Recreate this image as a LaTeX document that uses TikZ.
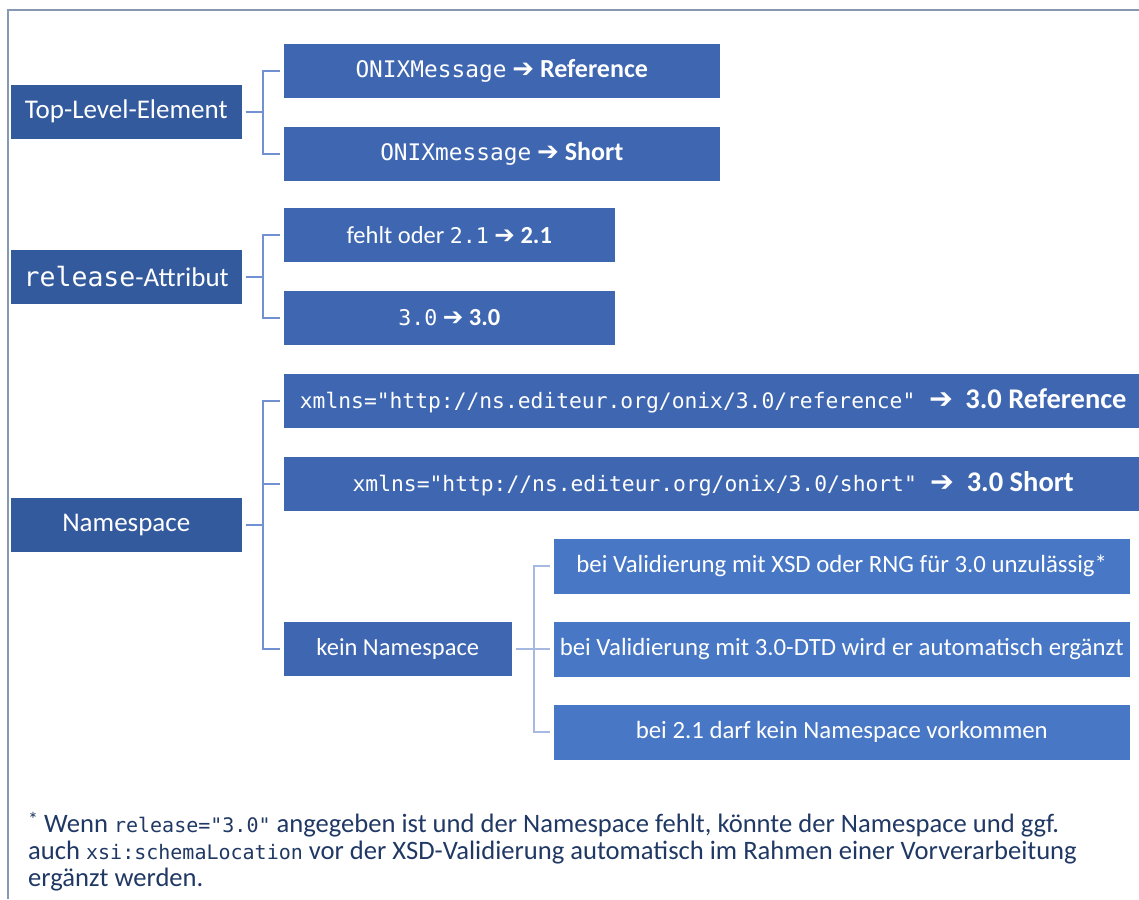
\documentclass[tikz,border=0pt]{standalone}
\usepackage{fontspec}
\setmainfont{Carlito}
\newfontfamily\monof{DejaVu Sans Mono}
\newfontfamily\symf{DejaVu Sans}
\newcommand\mt[2]{{\monof\fontsize{#1}{#1}\selectfont #2}}
\newcommand\arr{{\symf ➔}}
\definecolor{cA}{HTML}{345A9E}
\definecolor{cB}{HTML}{3F67B1}
\definecolor{cC}{HTML}{4777C5}
\definecolor{lA}{HTML}{7291D2}
\definecolor{lB}{HTML}{A7B8E1}
\definecolor{cFrame}{HTML}{8799B2}
\definecolor{cF}{HTML}{203864}
\begin{document}
\begin{tikzpicture}[x=1pt,y=-1pt,
 box/.style={anchor=north west, inner sep=0pt, text=white, draw=white, line width=0.5pt},
 lone/.style={box, fill=cA, minimum width=232pt, minimum height=55pt, font=\fontsize{27}{30}\selectfont},
 ltwo/.style={box, fill=cB, minimum height=55pt, font=\fontsize{24.5}{28}\selectfont},
 lthree/.style={box, fill=cC, minimum width=577pt, minimum height=56pt, font=\fontsize{24.8}{28}\selectfont},
 conA/.style={draw=lA, line width=2pt, shorten <=3pt, shorten >=3pt},
 conB/.style={draw=lB, line width=2pt, shorten <=3pt, shorten >=3pt},
 frameline/.style={draw=cFrame, line width=1.6pt},
 foot/.style={anchor=base west, inner sep=0pt, text=cF, font=\fontsize{26.6}{27}\selectfont}]
\useasboundingbox (0,0) rectangle (1139,899);
\draw[frameline] (8,899) -- (8,10) -- (1139,10);

\node[lone] (tle) at (10,84) {Top-Level-Element};
\node[ltwo, minimum width=437pt, font=\fontsize{26}{28}\selectfont] (onref) at (283,43) {\mt{22.8}{ONIXMessage} \arr{} \textbf{Reference}};
\node[ltwo, minimum width=437pt, font=\fontsize{26}{28}\selectfont] (onshort) at (283,126) {\mt{22.8}{ONIXmessage} \arr{} \textbf{Short}};

\node[lone] (rel) at (10,249) {\mt{26.5}{release}-Attribut};
\node[ltwo, minimum width=332pt] (r21) at (283,207) {fehlt oder \mt{21.6}{2.1} \arr{} \textbf{2.1}};
\node[ltwo, minimum width=332pt] (r30) at (283,290) {\mt{21.6}{3.0} \arr{} \textbf{3.0}};

\node[lone] (ns) at (10,497) {Namespace};
\node[ltwo, minimum width=860pt, font=\fontsize{28.5}{30}\selectfont] (nsref) at (283,373) {\mt{21.3}{xmlns="http://ns.editeur.org/onix/3.0/reference"}\hspace{14pt}\arr{}\hspace{12pt}\textbf{3.0 Reference}};
\node[ltwo, minimum width=860pt, font=\fontsize{28.5}{30}\selectfont] (nsshort) at (283,456) {\mt{21.3}{xmlns="http://ns.editeur.org/onix/3.0/short"}\hspace{14pt}\arr{}\hspace{12pt}\textbf{3.0 Short}};
\node[ltwo, minimum width=229pt] (kein) at (283,621) {kein Namespace};

\node[lthree] (v1) at (553,538) {bei Validierung mit XSD oder RNG für 3.0 unzulässig*};
\node[lthree] (v2) at (553,621) {bei Validierung mit 3.0-DTD wird er automatisch ergänzt};
\node[lthree] (v3) at (553,704) {bei 2.1 darf kein Namespace vorkommen};

\draw[conA] (tle.east) -- ++(20,0) |- (onref.west);
\draw[conA] (tle.east) -- ++(20,0) |- (onshort.west);
\draw[conA] (rel.east) -- ++(20,0) |- (r21.west);
\draw[conA] (rel.east) -- ++(20,0) |- (r30.west);
\draw[conA] (ns.east) -- ++(20,0) |- (nsref.west);
\draw[conA] (ns.east) -- ++(20,0) |- (nsshort.west);
\draw[conA] (ns.east) -- ++(20,0) |- (kein.west);
\draw[conB] (kein.east) -- ++(21,0) |- (v1.west);
\draw[conB] (kein.east) -- ++(21,0) |- (v2.west);
\draw[conB] (kein.east) -- ++(21,0) |- (v3.west);

\node[foot] (f1) at (28,832) {\raisebox{6pt}{\fontsize{20}{20}\selectfont *} Wenn \mt{20}{release="3.0"} angegeben ist und der Namespace fehlt, könnte der Namespace und ggf.};
\node[foot] (f2) at (28,859) {auch \mt{20}{xsi:schemaLocation} vor der XSD-Validierung automatisch im Rahmen einer Vorverarbeitung};
\node[foot] (f3) at (28,886) {ergänzt werden.};
\end{tikzpicture}
\end{document}
